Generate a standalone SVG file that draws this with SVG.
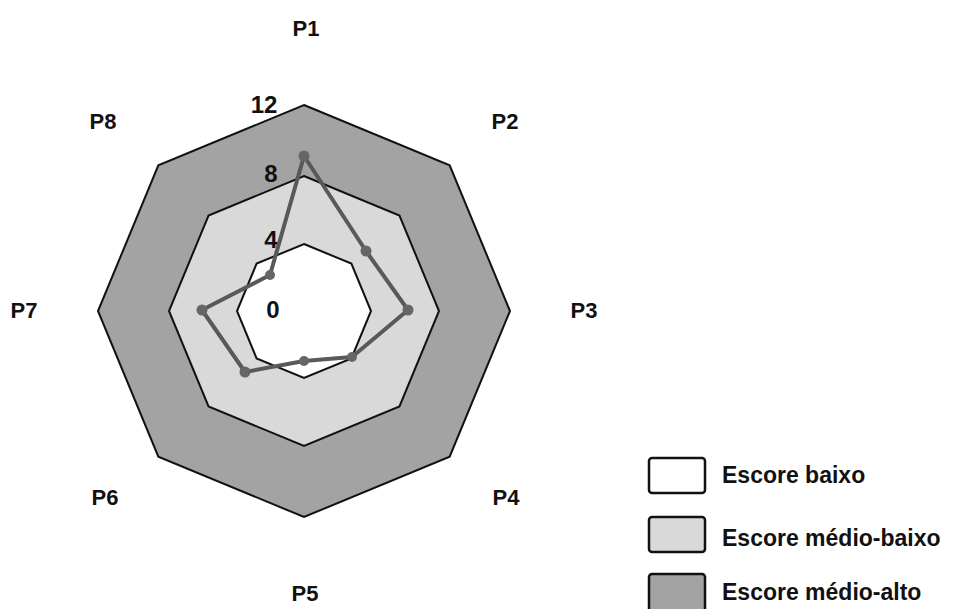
<svg xmlns="http://www.w3.org/2000/svg" width="955" height="609" viewBox="0 0 955 609">
<style>
.ring{stroke:#111;stroke-width:2;stroke-linejoin:miter}
.lbl{font-family:"Liberation Sans",Arial,sans-serif;font-weight:bold;font-size:22px;fill:#111;text-anchor:middle}
.scale{font-family:"Liberation Sans",Arial,sans-serif;font-weight:bold;font-size:24px;fill:#111;text-anchor:middle}
.leg{font-family:"Liberation Sans",Arial,sans-serif;font-weight:bold;font-size:23px;fill:#111}
.box{stroke:#111;stroke-width:2.5}
.dot{fill:#666}
</style>
<rect width="955" height="609" fill="#fff"/>
<g id="ring-12"><polygon class="ring" fill="#a3a3a3" points="304,105 449.66,165.34 510,311 449.66,456.66 304,517 158.34,456.66 98,311 158.34,165.34"/></g>
<g id="ring-8"><polygon class="ring" fill="#d9d9d9" points="304,176 399.46,215.54 439,311 399.46,406.46 304,446 208.54,406.46 169,311 208.54,215.54"/></g>
<g id="ring-4"><polygon class="ring" fill="#ffffff" points="304,244 351.38,263.62 371,311 351.38,358.38 304,378 256.62,358.38 237,311 256.62,263.62"/></g>
<g id="scale">
<text class="scale" x="264" y="113">12</text>
<text class="scale" x="271" y="182">8</text>
<text class="scale" x="271" y="248">4</text>
<text class="scale" x="273" y="318">0</text>
</g>
<g id="connectors">
<polygon points="304,156 366,251 408,310 352,357 304,361 245,372 202,310 270,275" fill="none" stroke="#595959" stroke-width="4" stroke-linejoin="round"/>
</g>
<g id="data-points">
<circle class="dot" cx="304" cy="156" r="5.5"/>
<circle class="dot" cx="366" cy="251" r="5.5"/>
<circle class="dot" cx="408" cy="310" r="5.5"/>
<circle class="dot" cx="352" cy="357" r="5"/>
<circle class="dot" cx="304" cy="361" r="5"/>
<circle class="dot" cx="245" cy="372" r="5.5"/>
<circle class="dot" cx="202" cy="310" r="5.5"/>
<circle class="dot" cx="270" cy="275" r="5"/>
</g>
<g id="axis-labels">
<text class="lbl" x="306" y="36">P1</text>
<text class="lbl" x="505" y="129">P2</text>
<text class="lbl" x="584" y="318">P3</text>
<text class="lbl" x="506" y="505">P4</text>
<text class="lbl" x="305" y="601">P5</text>
<text class="lbl" x="105" y="505">P6</text>
<text class="lbl" x="24" y="318">P7</text>
<text class="lbl" x="103" y="129">P8</text>
</g>
<g id="legend-baixo"><rect class="box" x="649" y="458" width="56" height="35" rx="3" fill="#fff"/><text class="leg" x="722" y="483">Escore baixo</text></g>
<g id="legend-medio-baixo"><rect class="box" x="649" y="517" width="56" height="35" rx="3" fill="#d9d9d9"/><text class="leg" x="722" y="546">Escore médio-baixo</text></g>
<g id="legend-medio-alto"><rect class="box" x="649" y="574" width="56" height="40" rx="3" fill="#a3a3a3"/><text class="leg" x="722" y="600">Escore médio-alto</text></g>
</svg>
